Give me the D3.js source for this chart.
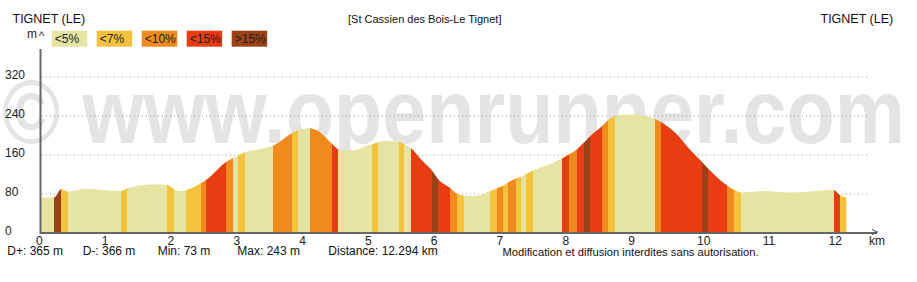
<!DOCTYPE html>
<html><head><meta charset="utf-8">
<script src="https://cdn.jsdelivr.net/npm/d3@7"></script>
<style>body{margin:0;background:#fff}svg{display:block}text{font-family:"Liberation Sans",Arial,sans-serif}</style>
</head><body>
<script>
// ---- data ----
const distKm = [0,0.205,0.316,0.418,0.677,1.22,1.32,1.737,1.93,2.03,2.137,2.217,2.436,2.52,2.826,2.928,3.004,3.115,3.41,3.536,3.825,3.916,4.099,4.22,4.423,4.525,4.707,5.031,5.133,5.259,5.442,5.528,5.63,5.817,5.95,6.035,6.228,6.327,6.43,6.608,6.836,6.94,7.03,7.11,7.23,7.31,7.38,7.486,7.927,8.027,8.155,8.255,8.357,8.54,8.63,8.733,9.027,9.194,9.341,9.433,9.65,9.852,10.05,10.141,10.43,10.547,10.649,11.0,11.354,11.7,12.053,12.155,12.246];
const elevM = [73,73,90,85,91,86,92,100,98,90,86,88,102,109,146,154,159,166,174,179,205,211,215,209,184,172,169,182,186,189,187,182,174,146,128,112,92,81,77,76,86,92,97,104,112,116,121,128,153,161,172,185,199,220,232,240,243,240,234,227,205,174,146,133,98,88,83,86,83,85,88,77,73];
// slope class of each segment (0:<5%,1:<7%,2:<10%,3:<15%,4:>15%)
const segClass = [0,4,1,0,0,1,0,0,1,0,0,1,2,3,2,0,1,0,0,2,1,0,2,2,3,0,0,1,0,0,1,0,3,3,4,3,2,1,0,0,1,2,1,2,1,0,1,0,3,2,3,4,3,2,1,0,0,0,2,3,3,3,4,3,2,1,0,0,0,0,3,1];
const classLabels = ["<5%","<7%","<10%","<15%",">15%"];
const classColors = ["#e6e4a2","#f4c23c","#f08a1c","#e83c12","#9a4216"];
const xTicks = [0,1,2,3,4,5,6,7,8,9,10,11,12];
const yTicks = [0,80,160,240,320];
const titleLeft = "TIGNET (LE)", titleRight = "TIGNET (LE)", titleMid = "[St Cassien des Bois-Le Tignet]";
const stats = ["D+: 365 m","D-: 366 m","Min: 73 m","Max: 243 m","Distance: 12.294 km"];
const notice = "Modification et diffusion interdites sans autorisation.";
const watermark = "\u00A9 www.openrunner.com";

// ---- drawing ----
const W = 917, H = 282;
const svg = d3.select("body").append("svg").attr("width", W).attr("height", H);
svg.append("rect").attr("width", W).attr("height", H).attr("fill", "#fff");

const x = d3.scaleLinear().domain([0, 12]).range([40.5, 40.5 + 12 * 65.8]);
const y = d3.scaleLinear().domain([0, 320]).range([233, 77]);

// watermark
svg.append("text").attr("x", 2).attr("y", 143).attr("textLength", 903).attr("lengthAdjust", "spacingAndGlyphs")
  .style("font-size", "90px").style("font-weight", "bold").attr("fill", "#e4e4e4").text(watermark);

// gridlines
svg.append("g").selectAll("line").data(yTicks.filter(d => d > 0)).join("line")
  .attr("x1", 42).attr("x2", 870).attr("y1", d => y(d)).attr("y2", d => y(d))
  .attr("stroke", "#999").attr("stroke-width", 1).attr("stroke-dasharray", "1,3");

// profile
const pts = distKm.map((d, i) => ({km: d, ele: elevM[i]}));
const area = d3.area().x(d => x(d.km)).y0(y(0)).y1(d => y(d.ele)).curve(d3.curveMonotoneX);
svg.append("clipPath").attr("id", "prof").append("path").attr("d", area(pts));
svg.append("g").attr("clip-path", "url(#prof)").selectAll("rect").data(segClass).join("rect")
  .attr("x", (c, i) => x(distKm[i])).attr("width", (c, i) => x(distKm[i + 1]) - x(distKm[i]) + 0.4)
  .attr("y", y(330)).attr("height", y(0) - y(330))
  .attr("fill", c => classColors[c]).attr("shape-rendering", "crispEdges");

// axes
svg.append("line").attr("x1", 40.5).attr("x2", 40.5).attr("y1", 49).attr("y2", 234).attr("stroke", "#666").attr("stroke-width", 2);
svg.append("line").attr("x1", 40).attr("x2", 877).attr("y1", 233).attr("y2", 233).attr("stroke", "#666").attr("stroke-width", 2);
svg.append("path").attr("d", "M872,229.5 L877.5,232 L872,234.5").attr("fill", "none").attr("stroke", "#444").attr("stroke-width", 1);
svg.append("text").attr("x", 41.5).attr("y", 40).attr("text-anchor", "middle").style("font-size", "12px").attr("fill", "#333").text("^");
svg.append("text").attr("x", 27).attr("y", 38).style("font-size", "12px").attr("fill", "#222").text("m");
svg.append("text").attr("x", 869).attr("y", 244.5).style("font-size", "12px").attr("fill", "#222").text("km");

// y tick labels
svg.append("g").selectAll("text").data(yTicks).join("text")
  .attr("x", 5).attr("y", d => y(d) + 2.3).style("font-size", "12px").attr("fill", "#222").text(d => d);
// x tick labels
svg.append("g").selectAll("text").data(xTicks).join("text")
  .attr("x", d => x(d) - 4.5 + (d >= 10 ? 3 : 0)).attr("y", 245).style("font-size", "12px").attr("fill", "#222").text(d => d);

// legend
const lg = svg.append("g").selectAll("g").data(classLabels).join("g")
  .attr("transform", (d, i) => `translate(${51.7 + i * 45},30.7)`);
lg.append("rect").attr("width", 35.5).attr("height", 16).attr("fill", (d, i) => classColors[i]);
lg.append("text").attr("x", 3).attr("y", 12.3).style("font-size", "12px").attr("fill", "#222").text(d => d);

// titles
svg.append("text").attr("x", 12.5).attr("y", 23).style("font-size", "12.5px").attr("fill", "#111").text(titleLeft);
svg.append("text").attr("x", 820.5).attr("y", 23).style("font-size", "12.5px").attr("fill", "#111").text(titleRight);
svg.append("text").attr("x", 348).attr("y", 22.5).style("font-size", "11px").attr("fill", "#111").text(titleMid);

// stats
const statX = [7.3, 82.7, 157.7, 237.3, 328.3];
svg.append("g").selectAll("text").data(stats).join("text")
  .attr("x", (d, i) => statX[i]).attr("y", 255.3).style("font-size", "12px").attr("fill", "#111").text(d => d);
svg.append("text").attr("x", 502.5).attr("y", 255.5).attr("textLength", 256).attr("lengthAdjust", "spacingAndGlyphs")
  .style("font-size", "10.5px").attr("fill", "#111").text(notice);
</script>
</body></html>
